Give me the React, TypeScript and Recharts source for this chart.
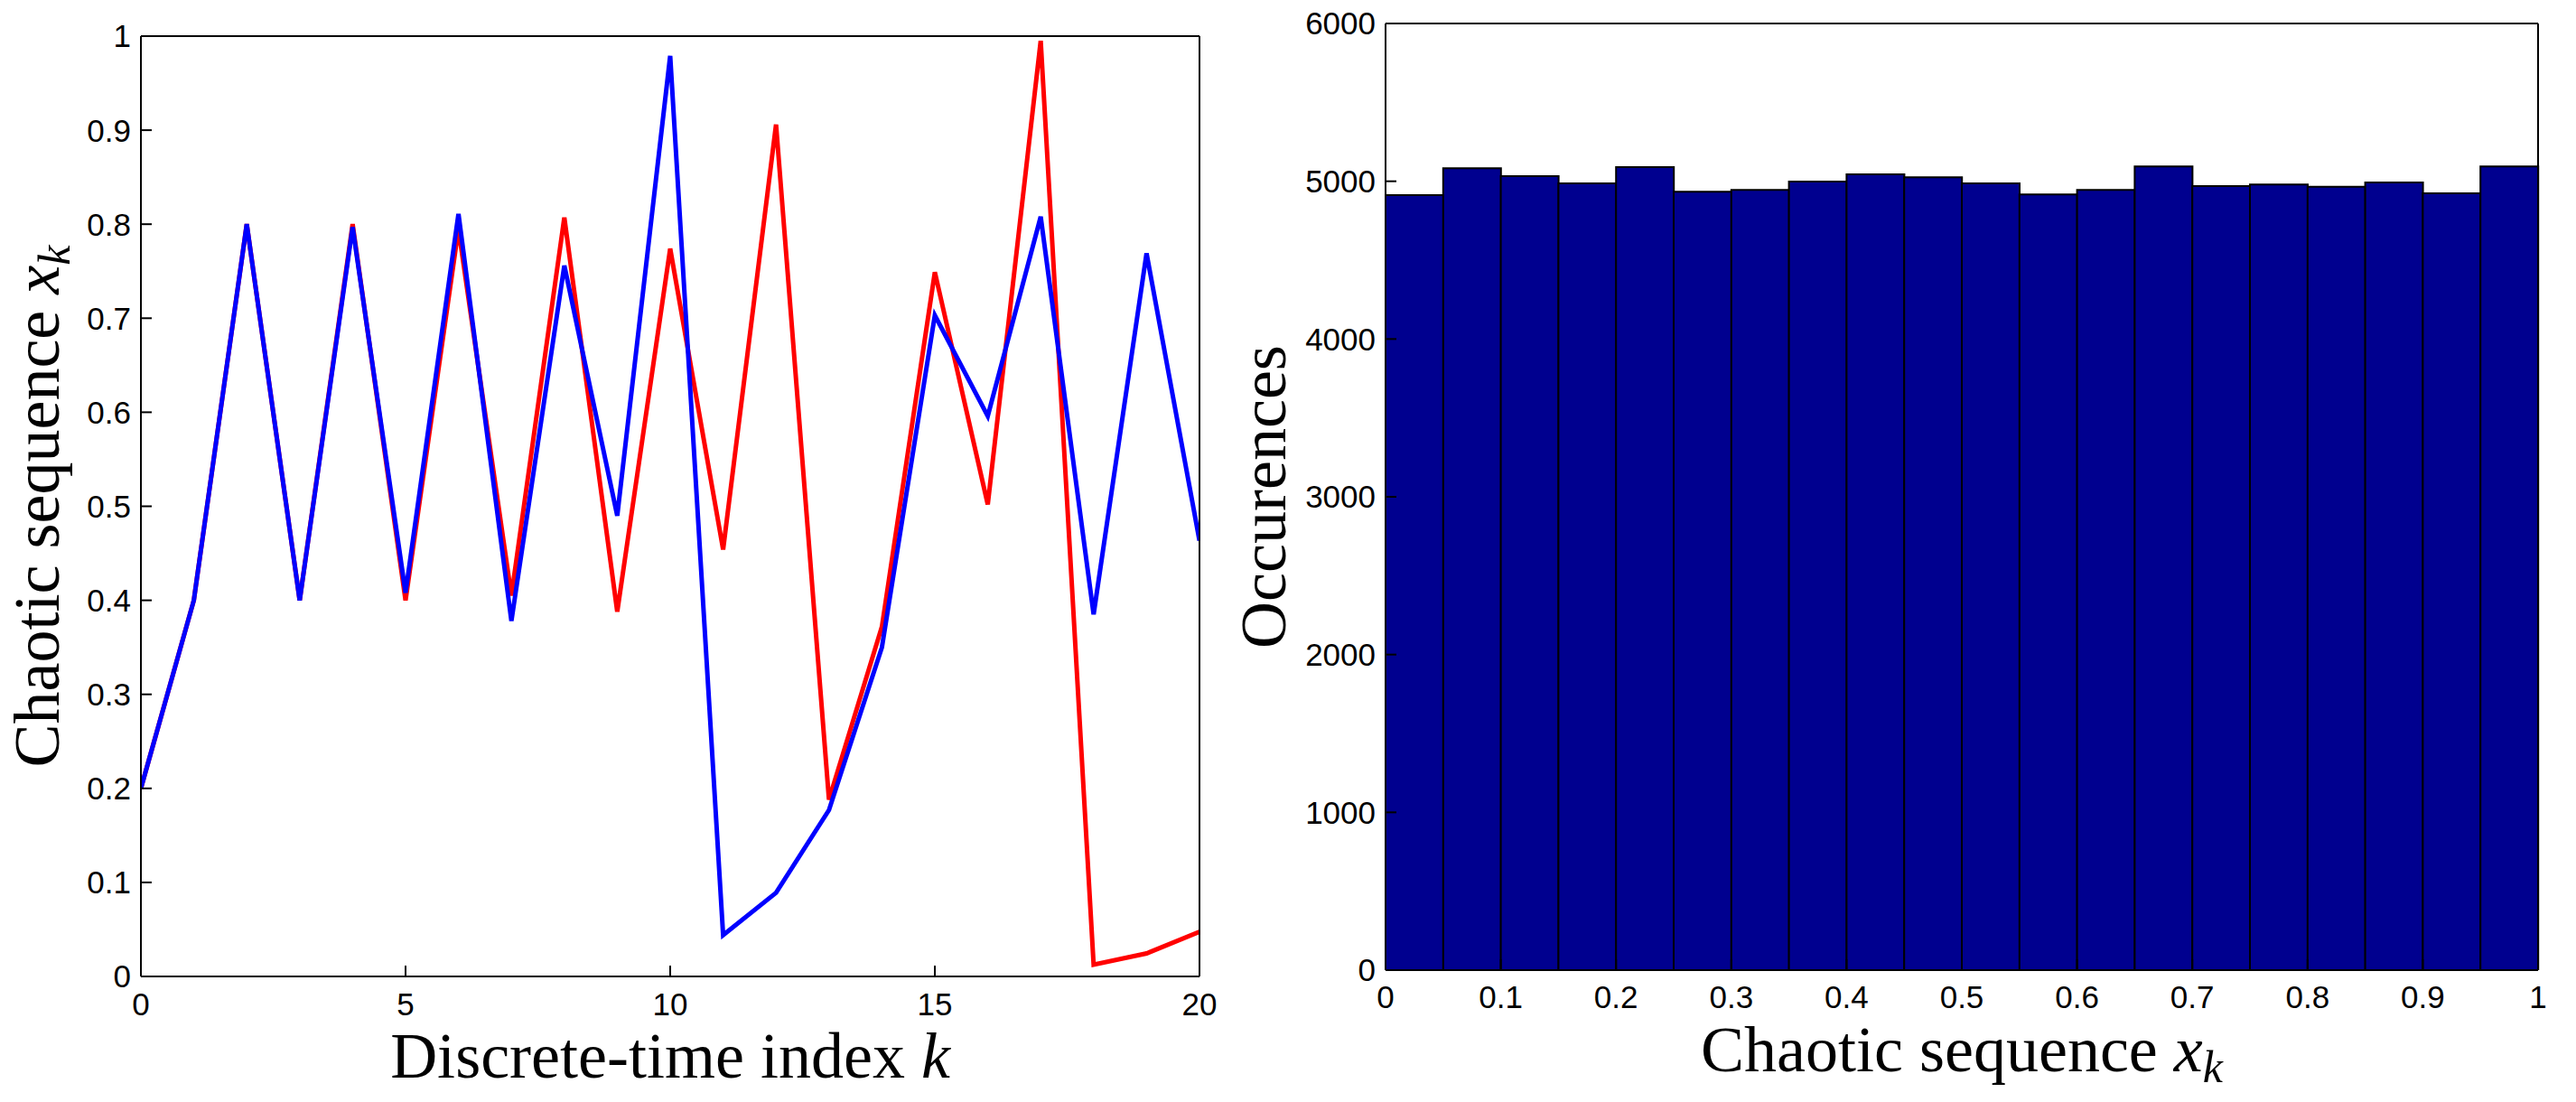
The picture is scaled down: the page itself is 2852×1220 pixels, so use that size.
import React from 'react';
import { LineChart, Line, XAxis, YAxis, ComposedChart, Bar, Label } from 'recharts';

// ---- Left panel: chaotic sequences ----
const kIndex = [0, 1, 2, 3, 4, 5, 6, 7, 8, 9, 10, 11, 12, 13, 14, 15, 16, 17, 18, 19, 20];
const redSeq = [0.2, 0.4, 0.8, 0.4, 0.8, 0.4, 0.795, 0.405, 0.807, 0.388, 0.774, 0.454, 0.906, 0.188, 0.372, 0.749, 0.502, 0.995, 0.0126, 0.0245, 0.0475];
const blueSeq = [0.2, 0.4, 0.8, 0.4, 0.797, 0.408, 0.811, 0.378, 0.756, 0.49, 0.979, 0.044, 0.089, 0.177, 0.35, 0.703, 0.596, 0.808, 0.385, 0.769, 0.4635];
const lineXTicks = [0, 5, 10, 15, 20];
const lineYTicks = [0, 0.1, 0.2, 0.3, 0.4, 0.5, 0.6, 0.7, 0.8, 0.9, 1];

// ---- Right panel: histogram ----
const binCenters = [0.025, 0.075, 0.125, 0.175, 0.225, 0.275, 0.325, 0.375, 0.425, 0.475, 0.525, 0.575, 0.625, 0.675, 0.725, 0.775, 0.825, 0.875, 0.925, 0.975];
const binCounts = [4912, 5083, 5033, 4987, 5090, 4934, 4945, 4998, 5044, 5026, 4987, 4917, 4945, 5094, 4969, 4980, 4965, 4993, 4923, 5094];
const histXTicks = [0, 0.1, 0.2, 0.3, 0.4, 0.5, 0.6, 0.7, 0.8, 0.9, 1];
const histYTicks = [0, 1000, 2000, 3000, 4000, 5000, 6000];

const lineData = kIndex.map((k, i) => ({ k, red: redSeq[i], blue: blueSeq[i] }));
const histData = binCenters.map((c, i) => ({ center: c, count: binCounts[i] }));

const TICK_FONT = { fill: '#000', fontSize: 35, fontFamily: '"Liberation Sans", Arial, sans-serif' };
const SERIF = '"Liberation Serif", "Times New Roman", serif';
const AXIS_LINE = { stroke: '#000', strokeWidth: 2 };
const TICK_LINE = { stroke: '#000', strokeWidth: 2 };

const makeYTitle = (text: string, shift: number, withSub: boolean) => (props: any) => {
  const vb = props.viewBox || {};
  const cx = vb.x + vb.width - shift;
  const cy = vb.y + vb.height / 2;
  return (
    <text x={cx} y={cy} transform={`rotate(-90 ${cx} ${cy})`} textAnchor="middle" fontFamily={SERIF} fontSize={72} fill="#000">
      {text}
      {withSub ? <tspan fontStyle="italic">x</tspan> : null}
      {withSub ? <tspan fontStyle="italic" fontSize={50} dy={12}>k</tspan> : null}
    </text>
  );
};

const makeXTitle = (text: string, drop: number, kind: 'k' | 'xk') => (props: any) => {
  const vb = props.viewBox || {};
  const cx = vb.x + vb.width / 2;
  const cy = vb.y + drop;
  return (
    <text x={cx} y={cy} textAnchor="middle" fontFamily={SERIF} fontSize={72} fill="#000">
      {text}
      {kind === 'k' ? <tspan fontStyle="italic">k</tspan> : <tspan fontStyle="italic">x</tspan>}
      {kind === 'xk' ? <tspan fontStyle="italic" fontSize={50} dy={12}>k</tspan> : null}
    </text>
  );
};

function LeftPanel() {
  return (
    <LineChart width={1400} height={1220} data={lineData} margin={{ top: 39, right: 71, bottom: 138, left: 155 }}>
      <XAxis xAxisId="bottom" dataKey="k" type="number" domain={[0, 20]} ticks={lineXTicks} interval={0}
        height={1} tickSize={-12} tickMargin={30} tick={TICK_FONT} axisLine={AXIS_LINE} tickLine={TICK_LINE} allowDataOverflow>
        <Label content={makeXTitle('Discrete-time index ', 112, 'k')} />
      </XAxis>
      <XAxis xAxisId="top" orientation="top" dataKey="k" type="number" domain={[0, 20]} ticks={lineXTicks} interval={0}
        height={1} tickSize={-12} tick={false} axisLine={AXIS_LINE} tickLine={TICK_LINE} allowDataOverflow />
      <YAxis yAxisId="left" type="number" domain={[0, 1]} ticks={lineYTicks} interval={0}
        width={1} tickSize={-12} tickMargin={23} tick={TICK_FONT} axisLine={AXIS_LINE} tickLine={TICK_LINE} allowDataOverflow>
        <Label content={makeYTitle('Chaotic sequence ', 91, true)} />
      </YAxis>
      <YAxis yAxisId="right" orientation="right" type="number" domain={[0, 1]} ticks={lineYTicks} interval={0}
        width={1} tickSize={-12} tick={false} axisLine={AXIS_LINE} tickLine={TICK_LINE} allowDataOverflow />
      <Line xAxisId="top" yAxisId="right" dataKey="red" stroke="none" dot={false} activeDot={false} isAnimationActive={false} legendType="none" />
      <Line xAxisId="bottom" yAxisId="left" dataKey="red" stroke="#FF0000" strokeWidth={5} dot={false} activeDot={false} isAnimationActive={false} type="linear" />
      <Line xAxisId="bottom" yAxisId="left" dataKey="blue" stroke="#0000FF" strokeWidth={5} dot={false} activeDot={false} isAnimationActive={false} type="linear" />
    </LineChart>
  );
}

function RightPanel() {
  return (
    <ComposedChart width={1512} height={1220} data={histData} margin={{ top: 25, right: 41, bottom: 145, left: 193 }}
      barCategoryGap={0} barGap={0}>
      <XAxis xAxisId="bins" dataKey="center" type="category" hide height={0} />
      <XAxis xAxisId="num" dataKey="center" type="number" domain={[0, 1]} ticks={histXTicks} interval={0}
        height={1} tickSize={-12} tickMargin={29} tick={TICK_FONT} axisLine={AXIS_LINE} tickLine={TICK_LINE} allowDataOverflow>
        <Label content={makeXTitle('Chaotic sequence ', 112, 'xk')} />
      </XAxis>
      <XAxis xAxisId="top" orientation="top" dataKey="center" type="number" domain={[0, 1]} ticks={histXTicks} interval={0}
        height={1} tickSize={-12} tick={false} axisLine={AXIS_LINE} tickLine={TICK_LINE} allowDataOverflow />
      <YAxis yAxisId="left" type="number" domain={[0, 6000]} ticks={histYTicks} interval={0}
        width={1} tickSize={-12} tickMargin={23} tick={TICK_FONT} axisLine={AXIS_LINE} tickLine={TICK_LINE} allowDataOverflow>
        <Label content={makeYTitle('Occurences', 111, false)} />
      </YAxis>
      <YAxis yAxisId="right" orientation="right" type="number" domain={[0, 6000]} ticks={histYTicks} interval={0}
        width={1} tickSize={-12} tick={false} axisLine={AXIS_LINE} tickLine={TICK_LINE} allowDataOverflow />
      <Line xAxisId="num" yAxisId="left" dataKey="count" stroke="none" dot={false} activeDot={false} isAnimationActive={false} legendType="none" />
      <Line xAxisId="top" yAxisId="right" dataKey="count" stroke="none" dot={false} activeDot={false} isAnimationActive={false} legendType="none" />
      <Bar xAxisId="bins" yAxisId="left" dataKey="count" fill="#00008F" stroke="#000" strokeWidth={2} isAnimationActive={false} />
    </ComposedChart>
  );
}

export default function App() {
  return (
    <div style={{ position: 'absolute', left: 0, top: 0, width: 2852, height: 1220, background: '#fff' }}>
      <div style={{ position: 'absolute', left: 0, top: 0 }}>
        <LeftPanel />
      </div>
      <div style={{ position: 'absolute', left: 1340, top: 0 }}>
        <RightPanel />
      </div>
    </div>
  );
}
